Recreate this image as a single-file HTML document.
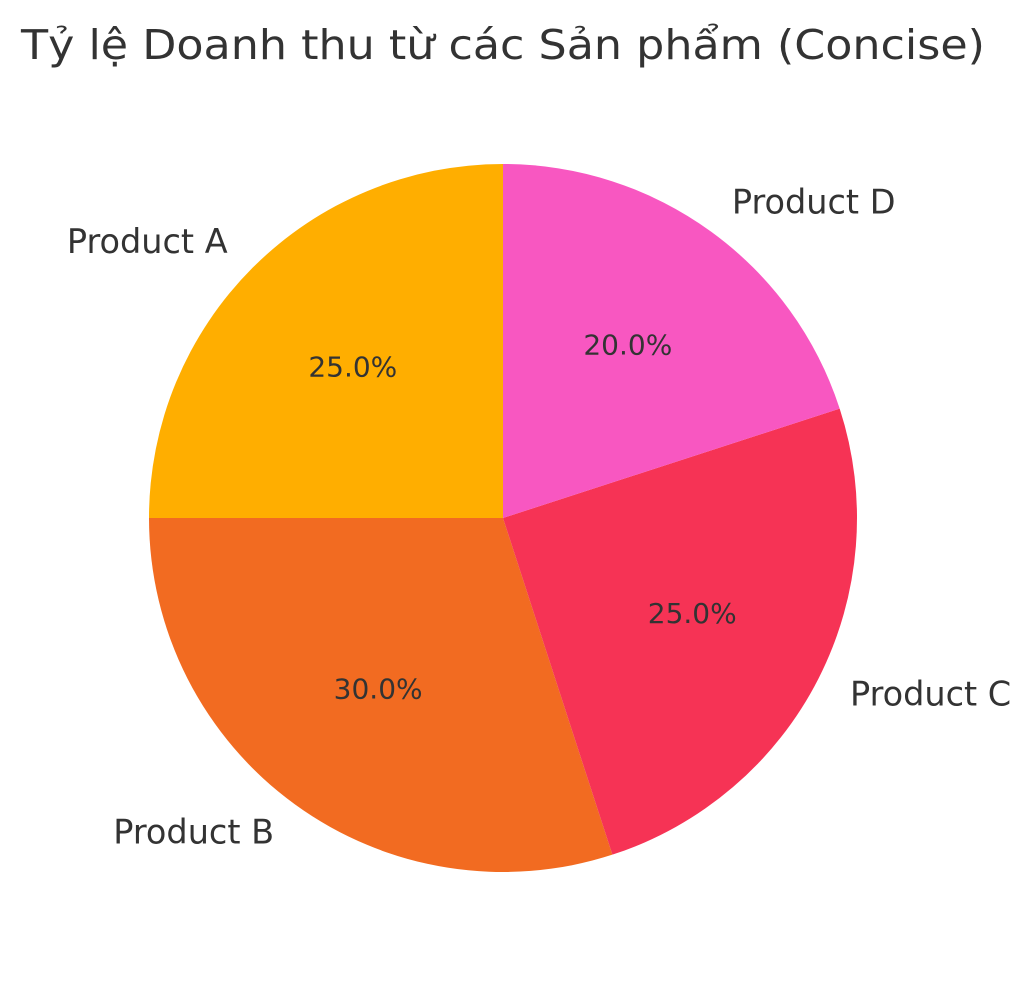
<!DOCTYPE html>
<html><head><meta charset="utf-8"><style>
body{margin:0;background:#fff;}
svg text{font-family:"DejaVu Sans","Liberation Sans",sans-serif;fill:#333;}
</style></head><body>
<svg id="chart" width="1030" height="980" viewBox="0 0 1030 980" xmlns="http://www.w3.org/2000/svg">
<text x="503" y="45" text-anchor="middle" dominant-baseline="central" font-size="41" textLength="964" lengthAdjust="spacingAndGlyphs">Tỷ lệ Doanh thu từ các Sản phẩm (Concise)</text>
<g id="slices"></g>
</svg>
<script>
const categories = ["Product A", "Product B", "Product C", "Product D"];
const values = [25, 30, 25, 20];
const colors = ["#FFAE00", "#F26B21", "#F63355", "#F857C1"];
const cx = 503, cy = 518, r = 354, startAngle = 90;
const g = document.getElementById('slices');
const NS = "http://www.w3.org/2000/svg";
const total = values.reduce((a,b)=>a+b,0);
let ang = startAngle;
function pt(a, rr){const t=a*Math.PI/180;return [cx+rr*Math.cos(t), cy-rr*Math.sin(t)];}
values.forEach((v,i)=>{
  const sweep = v/total*360;
  const a0 = ang, a1 = ang+sweep;
  const p0 = pt(a0,r), p1 = pt(a1,r);
  const large = sweep>180?1:0;
  const path = document.createElementNS(NS,'path');
  path.setAttribute('d',`M${cx},${cy} L${p0[0]},${p0[1]} A${r},${r} 0 ${large} 0 ${p1[0]},${p1[1]} Z`);
  path.setAttribute('fill',colors[i]);
  
  
  g.appendChild(path);
  const mid = (a0+a1)/2;
  const lp = pt(mid, r*1.1);
  const lab = document.createElementNS(NS,'text');
  lab.setAttribute('x', lp[0]); lab.setAttribute('y', lp[1] - 1);
  lab.setAttribute('font-size','33.5');
  lab.setAttribute('dominant-baseline','central');
  lab.setAttribute('text-anchor', Math.cos(mid*Math.PI/180) >= 0 ? 'start' : 'end');
  lab.textContent = categories[i];
  
  
  g.appendChild(lab);
  const pp = pt(mid, r*0.6);
  const pct = document.createElementNS(NS,'text');
  pct.setAttribute('x', pp[0]); pct.setAttribute('y', pp[1] - 1);
  pct.setAttribute('font-size','28');
  pct.setAttribute('dominant-baseline','central');
  pct.setAttribute('text-anchor','middle');
  pct.textContent = (v/total*100).toFixed(1)+'%';
  
  
  g.appendChild(pct);
  ang = a1;
});
</script>
</body></html>
